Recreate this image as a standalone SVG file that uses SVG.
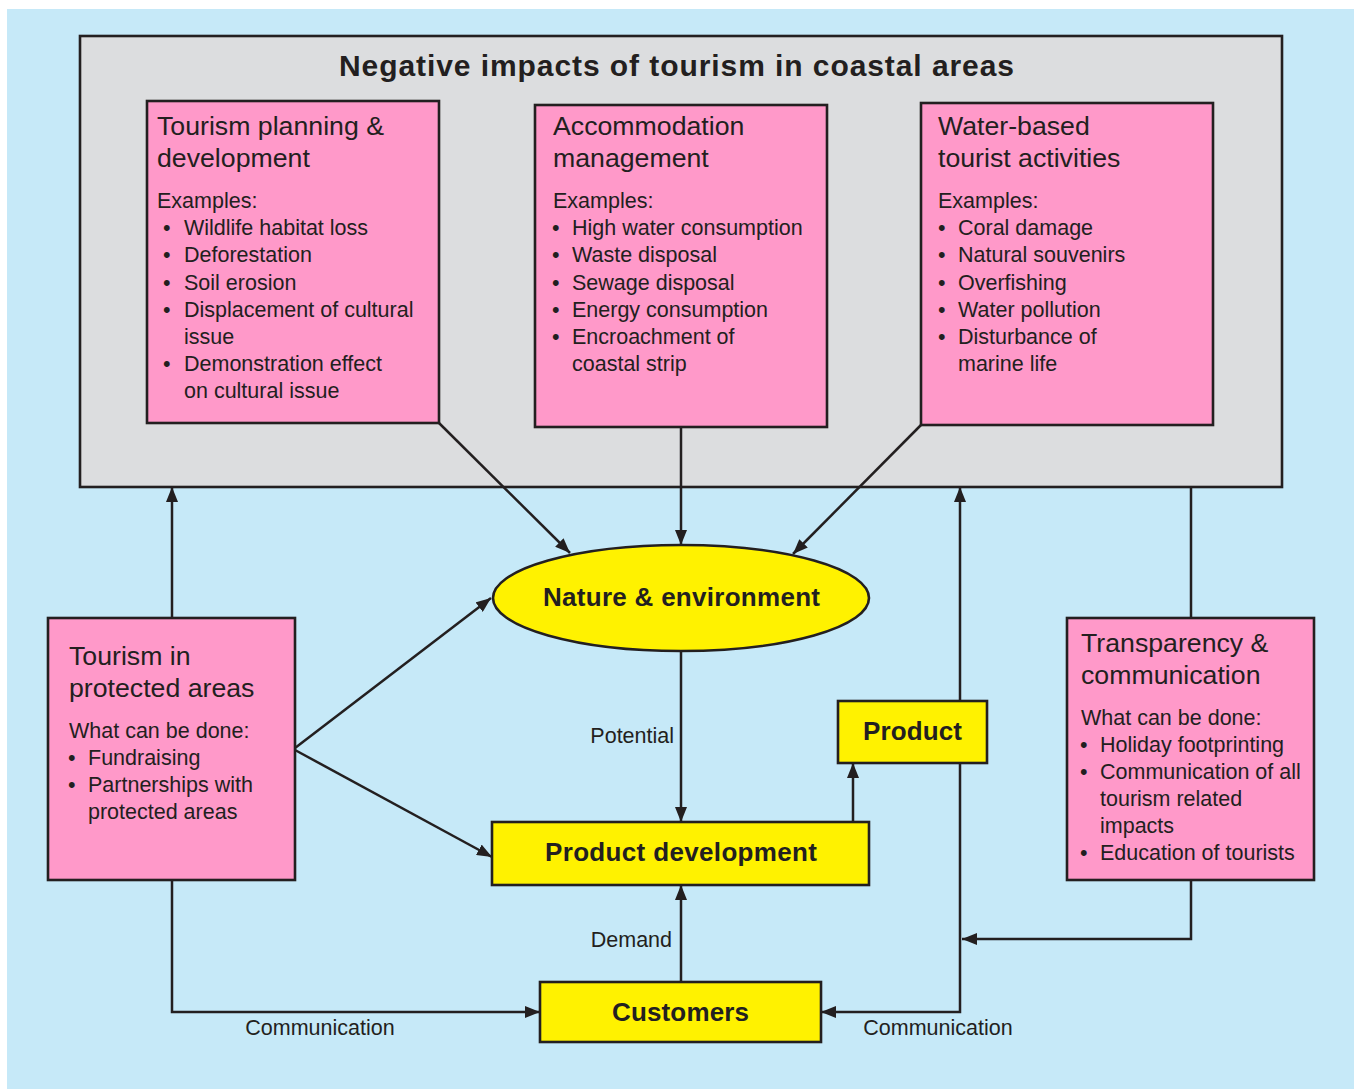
<svg xmlns="http://www.w3.org/2000/svg" width="1354" height="1089" viewBox="0 0 1354 1089">
<defs>
<style>
.pink{fill:#ff99c9;stroke:#231f20;stroke-width:2.6}
.yel{fill:#fff200;stroke:#231f20;stroke-width:2.6}
.t{font-family:"Liberation Sans",Arial,Helvetica,sans-serif;fill:#231f20}
.h{font-size:26.7px}
.b{font-size:21.5px}
.bold{font-weight:bold;font-size:26px}
.con{fill:none;stroke:#231f20;stroke-width:2.5}
</style>
<marker id="ah" viewBox="0 0 15 12" refX="15" refY="6" markerWidth="15" markerHeight="12" markerUnits="userSpaceOnUse" orient="auto"><path d="M0,0 L15,6 L0,12 z" fill="#231f20"/></marker>
</defs>
<rect x="0" y="0" width="1354" height="1089" fill="#ffffff"/>
<rect x="7" y="9" width="1347" height="1080" fill="#c6e9f8"/>

<g id="negative-impacts">
<rect x="80" y="36" width="1202" height="451" fill="#dcdddf" stroke="#231f20" stroke-width="2.6"/>
<text class="t" x="339" y="76" font-size="30" font-weight="bold" textLength="675" lengthAdjust="spacing">Negative impacts of tourism in coastal areas</text>
</g>

<g id="planning">
<rect class="pink" x="147" y="101" width="292" height="322"/>
<text class="t h" x="157" y="135">Tourism planning &amp;</text>
<text class="t h" x="157" y="167">development</text>
<text class="t b" x="157" y="208">Examples:</text>
<g class="t b">
<text x="163" y="235">•</text><text x="184" y="235">Wildlife habitat loss</text>
<text x="163" y="262">•</text><text x="184" y="262">Deforestation</text>
<text x="163" y="290">•</text><text x="184" y="290">Soil erosion</text>
<text x="163" y="317">•</text><text x="184" y="317">Displacement of cultural</text>
<text x="184" y="344">issue</text>
<text x="163" y="371">•</text><text x="184" y="371">Demonstration effect</text>
<text x="184" y="398">on cultural issue</text>
</g>
</g>

<g id="accommodation">
<rect class="pink" x="535" y="105" width="292" height="322"/>
<text class="t h" x="553" y="135">Accommodation</text>
<text class="t h" x="553" y="167">management</text>
<text class="t b" x="553" y="208">Examples:</text>
<g class="t b">
<text x="552" y="235">•</text><text x="572" y="235">High water consumption</text>
<text x="552" y="262">•</text><text x="572" y="262">Waste disposal</text>
<text x="552" y="290">•</text><text x="572" y="290">Sewage disposal</text>
<text x="552" y="317">•</text><text x="572" y="317">Energy consumption</text>
<text x="552" y="344">•</text><text x="572" y="344">Encroachment of</text>
<text x="572" y="371">coastal strip</text>
</g>
</g>

<g id="water-based">
<rect class="pink" x="921" y="103" width="292" height="322"/>
<text class="t h" x="938" y="135">Water-based</text>
<text class="t h" x="938" y="167">tourist activities</text>
<text class="t b" x="938" y="208">Examples:</text>
<g class="t b">
<text x="938" y="235">•</text><text x="958" y="235">Coral damage</text>
<text x="938" y="262">•</text><text x="958" y="262">Natural souvenirs</text>
<text x="938" y="290">•</text><text x="958" y="290">Overfishing</text>
<text x="938" y="317">•</text><text x="958" y="317">Water pollution</text>
<text x="938" y="344">•</text><text x="958" y="344">Disturbance of</text>
<text x="958" y="371">marine life</text>
</g>
</g>

<g id="nature">
<ellipse class="yel" cx="681" cy="598" rx="188" ry="53"/>
<text class="t bold" x="543" y="606" textLength="277" lengthAdjust="spacing">Nature &amp; environment</text>
</g>

<g id="protected">
<rect class="pink" x="48" y="618" width="247" height="262"/>
<text class="t h" x="69" y="665">Tourism in</text>
<text class="t h" x="69" y="697">protected areas</text>
<text class="t b" x="69" y="738">What can be done:</text>
<g class="t b">
<text x="68" y="765">•</text><text x="88" y="765">Fundraising</text>
<text x="68" y="792">•</text><text x="88" y="792">Partnerships with</text>
<text x="88" y="819">protected areas</text>
</g>
</g>

<g id="transparency">
<rect class="pink" x="1067" y="618" width="247" height="262"/>
<text class="t h" x="1081" y="652">Transparency &amp;</text>
<text class="t h" x="1081" y="684">communication</text>
<text class="t b" x="1081" y="725">What can be done:</text>
<g class="t b">
<text x="1080" y="752">•</text><text x="1100" y="752">Holiday footprinting</text>
<text x="1080" y="779">•</text><text x="1100" y="779">Communication of all</text>
<text x="1100" y="806">tourism related</text>
<text x="1100" y="833">impacts</text>
<text x="1080" y="860">•</text><text x="1100" y="860">Education of tourists</text>
</g>
</g>

<g id="product">
<rect class="yel" x="838" y="701" width="149" height="62"/>
<text class="t bold" x="863" y="740" textLength="99" lengthAdjust="spacing">Product</text>
</g>

<g id="product-development">
<rect class="yel" x="492" y="822" width="377" height="63"/>
<text class="t bold" x="545" y="861" textLength="272" lengthAdjust="spacing">Product development</text>
</g>

<g id="customers">
<rect class="yel" x="540" y="982" width="281" height="60"/>
<text class="t bold" x="612" y="1021" textLength="137" lengthAdjust="spacing">Customers</text>
</g>

<g id="connectors">
<path class="con" d="M439,423 L570,553" marker-end="url(#ah)"/>
<path class="con" d="M681,427 L681,545" marker-end="url(#ah)"/>
<path class="con" d="M921,425 L793,554" marker-end="url(#ah)"/>
<path class="con" d="M295,748 L491,598" marker-end="url(#ah)"/>
<path class="con" d="M295,750 L492,857" marker-end="url(#ah)"/>
<path class="con" d="M172,618 L172,487" marker-end="url(#ah)"/>
<path class="con" d="M172,880 L172,1012 L540,1012" marker-end="url(#ah)"/>
<path class="con" d="M681,651 L681,822" marker-end="url(#ah)"/>
<path class="con" d="M681,982 L681,885" marker-end="url(#ah)"/>
<path class="con" d="M853,822 L853,763" marker-end="url(#ah)"/>
<path class="con" d="M960,701 L960,487" marker-end="url(#ah)"/>
<path class="con" d="M960,763 L960,1012 L821,1012" marker-end="url(#ah)"/>
<path class="con" d="M1191,618 L1191,487"/>
<path class="con" d="M1191,880 L1191,939 L962,939" marker-end="url(#ah)"/>
<text class="t b" x="674" y="743" text-anchor="end">Potential</text>
<text class="t b" x="672" y="947" text-anchor="end">Demand</text>
<text class="t b" x="320" y="1035" text-anchor="middle">Communication</text>
<text class="t b" x="938" y="1035" text-anchor="middle">Communication</text>
</g>
</svg>
